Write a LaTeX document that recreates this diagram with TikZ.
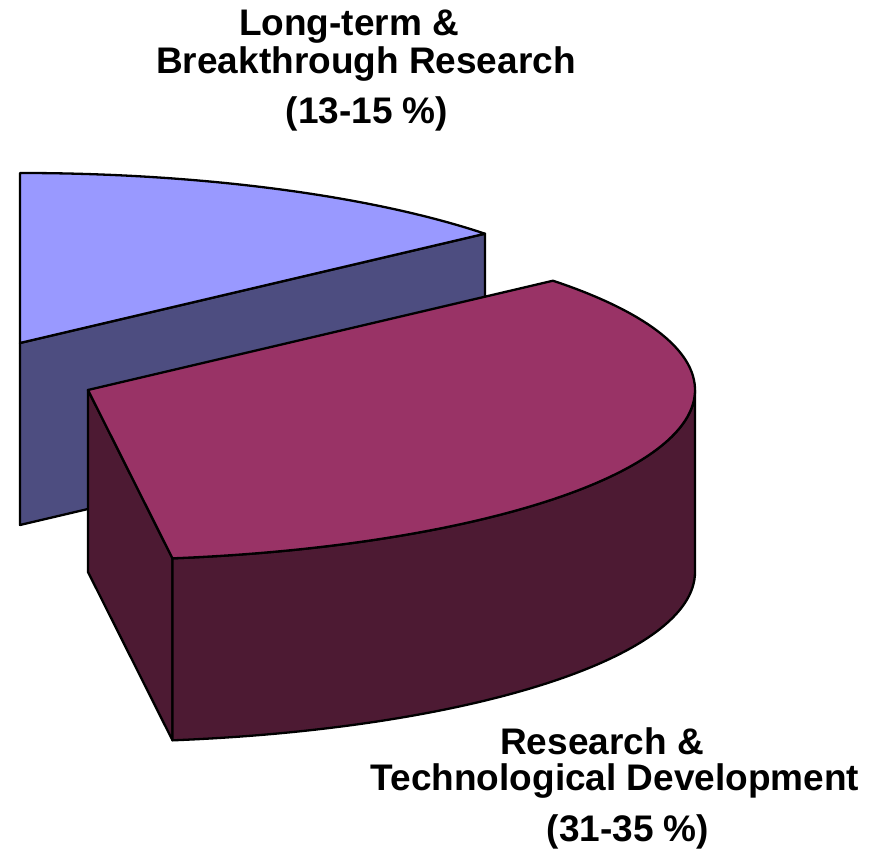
\documentclass[tikz,border=0pt]{standalone}
\usepackage{fontspec}
\setmainfont{Liberation Sans}
\usepackage{tikz}

\definecolor{lttop}{HTML}{9999FF}
\definecolor{ltside}{HTML}{4D4D80}
\definecolor{rdtop}{HTML}{993366}
\definecolor{rdside}{HTML}{4D1A33}

\begin{document}
\begin{tikzpicture}[x=1pt,y=1pt,
  face/.style={draw=black,line width=2.3pt,line join=round},
  lbl/.style={anchor=base,inner sep=0pt,font=\fontsize{37}{41}\selectfont\bfseries}]
\useasboundingbox (0,0) rectangle (879,858);
% long-term slice
\coordinate (lc) at (20,515);
\coordinate (lcb) at (20,333);
\path (lc) ++(40:607pt and 170pt) coordinate (la);
\path (la) ++(0,-182) coordinate (lab);
\draw[face,fill=ltside] (lc) -- (la) -- (lab) -- (lcb) -- cycle;
\draw[face,fill=lttop] (lc) -- (la) arc[start angle=40,end angle=90,x radius=607,y radius=170] -- cycle;
% R&D slice
\coordinate (rc) at (88,468);
\coordinate (rcb) at (88,286);
\path (rc) ++(40:607pt and 170pt) coordinate (ra);
\path (rc) ++(-82:607pt and 170pt) coordinate (rf);
\path (rf) ++(0,-182) coordinate (rfb);
\draw[face,fill=rdside] (rc) -- (rf) -- (rfb) -- (rcb) -- cycle;
\draw[face,fill=rdside] (rf) arc[start angle=-82,end angle=0,x radius=607,y radius=170]
  -- ++(0,-182) arc[start angle=0,end angle=-82,x radius=607,y radius=170] -- cycle;
\draw[face,fill=rdtop] (rc) -- (ra) arc[start angle=40,end angle=-82,x radius=607,y radius=170] -- cycle;
% labels
\node[lbl] (ltname) at (349,822) {Long-term \&};
\node[lbl] (ltname2) at (366,784) {Breakthrough Research};
\node[lbl] (ltshare) at (367,734) {(13-15 \%)};
\node[lbl] (rdname) at (602,103) {Research \&};
\node[lbl] (rdname2) at (615,67) {Technological Development};
\node[lbl] (rdshare) at (628,16) {(31-35 \%)};
\end{tikzpicture}
\end{document}
